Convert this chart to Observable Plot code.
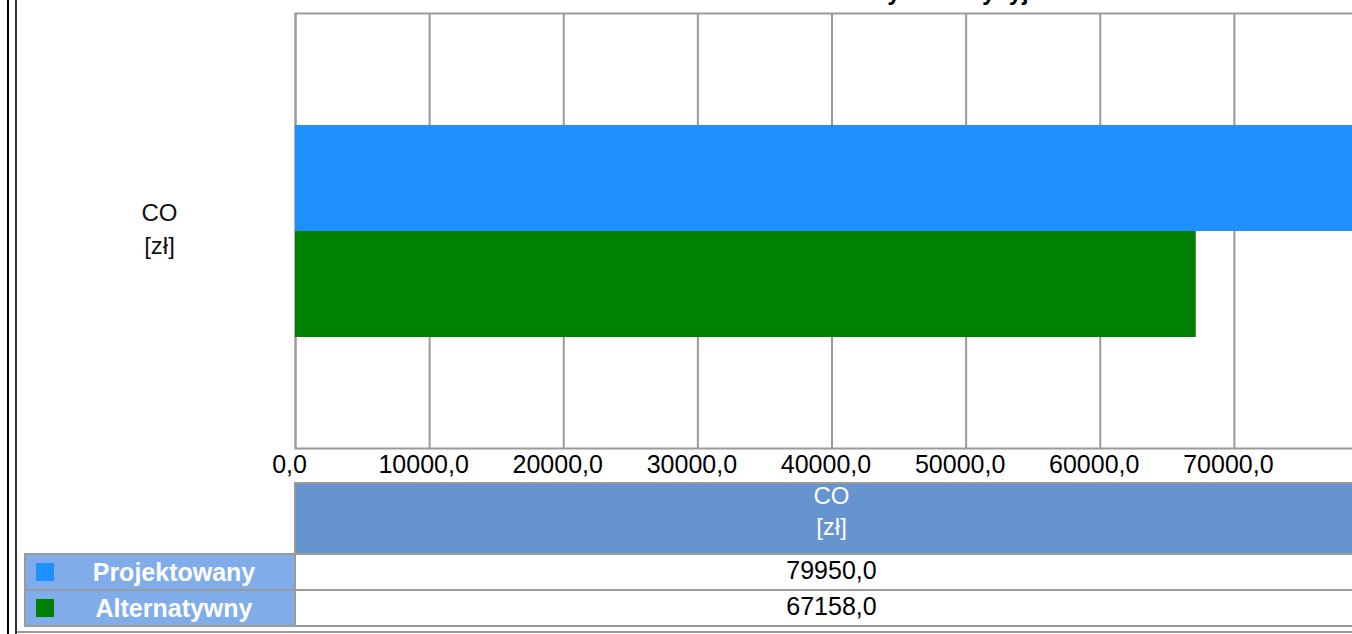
<!DOCTYPE html>
<html>
<head>
<meta charset="utf-8">
<script src="https://cdn.jsdelivr.net/npm/d3@7"></script>
<script src="https://cdn.jsdelivr.net/npm/@observablehq/plot@0.6"></script>
<style>
  html, body { margin: 0; padding: 0; background: #fff; overflow: hidden; width: 1352px; height: 634px; }
  body { position: relative; font-family: "Liberation Sans", Arial, sans-serif; }
  .abs { position: absolute; box-sizing: border-box; }
  #title { left: 822px; top: -20px; font-size: 24px; font-weight: bold; line-height: 24px; white-space: nowrap; color: #000; }
  #chart { left: 0; top: 0; width: 1370px; }
  #chart svg { max-width: none !important; }
  .cell { border: 2px solid #9a9a9a; display: flex; align-items: center; justify-content: center; white-space: nowrap; }
  .head { background: #6694cf; color: #fff; font-size: 24px; line-height: 31px; text-align: center; flex-direction: column; justify-content: flex-start; padding-top: 0; margin-top: 0; }
  .head > div:first-child { margin-top: -4px; }
  .legend { background: #80adea; color: #fff; font-weight: bold; font-size: 25px; padding-left: 28px; }
  .value { background: #fff; color: #000; font-size: 25px; padding-bottom: 3px; }
  .swatch { width: 18px; height: 18px; }
</style>
</head>
<body>
<div class="abs" style="left:7px;top:0;width:2px;height:634px;background:#000"></div>
<div class="abs" style="left:15px;top:0;width:2px;height:634px;background:#333"></div>
<div class="abs" style="left:17px;top:631px;width:1400px;height:2px;background:#9a9a9a"></div>
<div id="title" class="abs">Koszty inwestycyjne</div>
<div id="chart" class="abs"></div>
<div id="table"></div>
<script>
// Category, units and series for the annual cost comparison
const categoryName = "CO";
const categoryUnit = "[zł]";
const series = ["Projektowany", "Alternatywny"];
const values = [79950, 67158];
const seriesColors = ["#1e90ff", "#008000"];
const xTicks = [0, 10000, 20000, 30000, 40000, 50000, 60000, 70000];
const xMax = 80000;

const fmt = d => d.toFixed(1).replace(".", ",");
const rows = series.map((s, i) => ({series: s, value: values[i]}));

const plotLeft = 295, plotRight = 1368;

const chart = Plot.plot({
  width: plotRight + 2,
  height: 483,
  marginLeft: plotLeft,
  marginRight: 2,
  marginTop: 13,
  marginBottom: 35,
  style: {fontFamily: "'Liberation Sans', Arial, sans-serif", fontSize: "25px", color: "#000", background: "transparent", overflow: "visible", maxWidth: "none"},
  x: {domain: [0, xMax], label: null},
  y: {domain: series, paddingInner: 0, paddingOuter: 1.04, axis: null},
  color: {domain: series, range: seriesColors},
  marks: [
    Plot.gridX(xTicks, {stroke: "#9a9a9a", strokeOpacity: 1, strokeWidth: 2}),
    Plot.frame({stroke: "#9a9a9a", strokeWidth: 2}),
    Plot.barX(rows, {y: "series", x: "value", fill: "series"}),
    Plot.text([categoryName + "\n" + categoryUnit], {
      text: d => d, frameAnchor: "left", dx: -136, dy: -4, textAnchor: "middle",
      lineHeight: 1.375, fontSize: 24, fill: "#111"
    }),
    Plot.axisX(xTicks, {tickFormat: fmt, tickSize: 0, tickPadding: 7, dx: -6, label: null, fontSize: 25})
  ]
});
document.getElementById("chart").append(chart);

// Data table under the chart: header row, then one row per series
const table = document.getElementById("table");
function box(cls, l, t, w, h, html) {
  const d = document.createElement("div");
  d.className = "abs cell " + cls;
  d.style.left = l + "px"; d.style.top = t + "px";
  d.style.width = w + "px"; d.style.height = h + "px";
  if (html !== undefined) d.innerHTML = html;
  table.append(d);
  return d;
}
box("head", plotLeft - 1, 482, plotRight - plotLeft + 2, 73,
  `<div>${categoryName}</div><div>${categoryUnit}</div>`);
const rowTop = [553, 589], rowH = 38;
series.forEach((s, i) => {
  const leg = box("legend", 24, rowTop[i], plotLeft - 24 + 1, rowH, s);
  const sw = document.createElement("div");
  sw.className = "abs swatch";
  sw.style.left = "10px"; sw.style.top = "8px";
  sw.style.background = seriesColors[i];
  leg.append(sw);
  box("value", plotLeft - 1, rowTop[i], plotRight - plotLeft + 2, rowH, fmt(values[i]));
});
</script>
</body>
</html>
